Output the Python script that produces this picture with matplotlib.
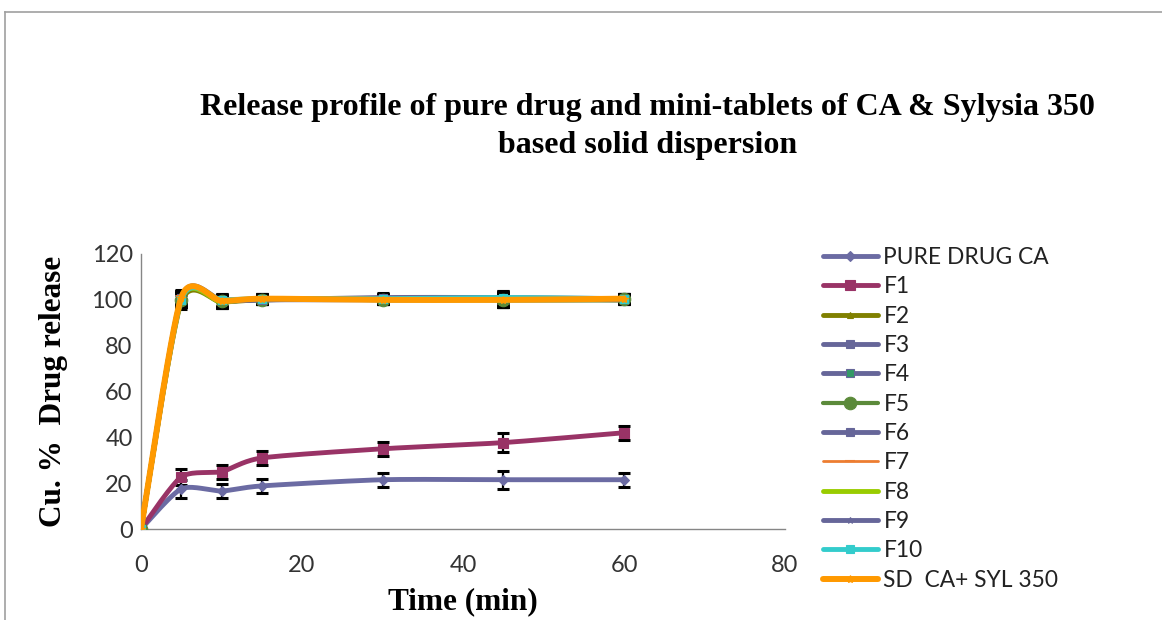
import numpy as np
import matplotlib
matplotlib.use("Agg")
import matplotlib.pyplot as plt
from matplotlib.lines import Line2D

# sampling times (min)
time = [0, 5, 10, 15, 30, 45, 60]

series_names = ["PURE DRUG CA", "F1", "F2", "F3", "F4", "F5", "F6",
                "F7", "F8", "F9", "F10", "SD  CA+ SYL 350"]

pure_drug = [0, 17.5, 16.6, 18.8, 21.5, 21.5, 21.5]
f1 = [0, 22.7, 25.0, 31.0, 35.0, 37.7, 42.0]
f2 = [0, 99.0, 99.0, 100.0, 100.5, 100.0, 100.0]
f3 = [0, 100.0, 99.5, 100.0, 100.5, 100.5, 100.0]
f4 = [0, 100.5, 99.0, 100.5, 100.0, 100.5, 100.5]
f5 = [0, 100.0, 99.5, 100.0, 100.0, 100.0, 100.5]
f6 = [0, 101.0, 100.0, 100.0, 101.0, 101.0, 100.5]
f7 = [0, 101.5, 99.0, 100.0, 100.0, 100.0, 100.5]
f8 = [0, 100.0, 99.0, 100.5, 100.0, 100.0, 100.0]
f9 = [0, 101.0, 99.5, 100.0, 100.0, 100.0, 100.0]
f10 = [0, 100.0, 100.0, 100.5, 100.5, 101.0, 100.5]
sd_ca_syl = [0, 101.0, 99.5, 100.5, 100.0, 100.0, 100.5]

pure_err = [0, 4, 3, 3, 3, 4, 3]
f1_err = [0, 3.5, 3, 3, 3, 4, 3]
high_err = [0, 3, 2.5, 2, 2, 3, 2]

values = [pure_drug, f1, f2, f3, f4, f5, f6, f7, f8, f9, f10, sd_ca_syl]
errors = [pure_err, f1_err] + [high_err] * 10

colors = ["#6B6BA3", "#993366", "#808000", "#666699", "#666699", "#5B8A3A",
          "#666699", "#ED7D31", "#99CC00", "#666699", "#33CCCC", "#FF9900"]
mfcolors = ["#6B6BA3", "#993366", "#808000", "#666699", "#339966", "#5B8A3A",
            "#666699", "#ED7D31", "#99CC00", "#666699", "#33CCCC", "#FF9900"]
markers = ["D", "s", "^", "s", "s", "o", "s", "_", "None", "*", "s", "*"]
msizes = [5, 6.5, 5, 6, 6, 9, 6, 7, 0, 5, 6, 6]
lwidths = [3.5, 3.5, 3.5, 3.5, 3.5, 3.0, 3.5, 2.0, 3.5, 3.5, 3.5, 4.3]

NSEG = 30


def smooth(x, y, k=0.12):
    # excel-like smoothed line (bezier through the points)
    x = np.asarray(x, float)
    y = np.asarray(y, float)
    n = len(x)
    xs, ys = [], []
    t = np.linspace(0, 1, NSEG, endpoint=False)
    for i in range(n - 1):
        a = max(i - 1, 0)
        b = min(i + 2, n - 1)
        p0 = np.array([x[i], y[i]])
        p3 = np.array([x[i + 1], y[i + 1]])
        p1 = p0 + k * (np.array([x[i + 1], y[i + 1]]) - np.array([x[a], y[a]]))
        p2 = p3 - k * (np.array([x[b], y[b]]) - np.array([x[i], y[i]]))
        for tt in t:
            pt = ((1 - tt) ** 3 * p0 + 3 * (1 - tt) ** 2 * tt * p1
                  + 3 * (1 - tt) * tt ** 2 * p2 + tt ** 3 * p3)
            xs.append(pt[0])
            ys.append(pt[1])
    xs.append(x[-1])
    ys.append(y[-1])
    return np.array(xs), np.array(ys)


fig = plt.figure(figsize=(11.62, 6.2), dpi=100)
ax = fig.add_axes([141 / 1162, 91 / 620, 644 / 1162, 275 / 620])

# error bars behind the lines
for i, (vals, err) in enumerate(zip(values, errors)):
    ax.errorbar(time[1:], vals[1:], yerr=err[1:], fmt="none", ecolor="black",
                elinewidth=1.6, capsize=4, capthick=2.2, zorder=1 + i * 0.01)

for i, vals in enumerate(values):
    xs, ys = smooth(time, vals)
    ax.plot(xs, ys, color=colors[i], lw=lwidths[i], marker=markers[i],
            ms=msizes[i], mfc=mfcolors[i], mec=colors[i] if i != 4 else "#666699",
            mew=1.5 if markers[i] == "_" else 0.8,
            markevery=list(range(0, len(xs), NSEG)),
            label=series_names[i], zorder=3 + i * 0.01, solid_capstyle="round")

ax.set_xlim(0, 80)
ax.set_ylim(0, 120)
ax.set_xticks([0, 20, 40, 60, 80])
ax.set_yticks([0, 20, 40, 60, 80, 100, 120])
ax.tick_params(length=0, labelsize=17, colors="#333333")
ax.tick_params(axis="x", pad=19)
ax.tick_params(axis="y", pad=6)
for lab in ax.get_xticklabels() + ax.get_yticklabels():
    lab.set_fontfamily("Lato")
for s in ["top", "right"]:
    ax.spines[s].set_visible(False)
for s in ["left", "bottom"]:
    ax.spines[s].set_color("#868686")
    ax.spines[s].set_linewidth(1.0)
ax.set_clip_on(False)

ax.set_xlabel("Time (min)", fontsize=22.5, fontweight="bold",
              fontfamily="Liberation Serif", labelpad=8)
ax.set_ylabel("Cu. %  Drug release", fontsize=22.5, fontweight="bold",
              fontfamily="Liberation Serif", labelpad=17)

fig.text(0.557, 0.827, "Release profile of pure drug and mini-tablets of CA & Sylysia 350",
         ha="center", va="center", fontsize=23, fontweight="bold",
         fontfamily="Liberation Serif")
fig.text(0.557, 0.766, "based solid dispersion", ha="center", va="center",
         fontsize=23, fontweight="bold", fontfamily="Liberation Serif")

leg = ax.legend(loc="upper left", bbox_to_anchor=(814 / 1162, 1 - 238 / 620),
                bbox_transform=fig.transFigure, frameon=False,
                prop={"family": "Lato", "size": 16.4}, handlelength=2.4,
                handletextpad=0.25, labelspacing=0.365, borderaxespad=0)
for t in leg.get_texts():
    t.set_color("#222222")

# outer frame of the chart area
fig.add_artist(Line2D([4.5 / 1162, 4.5 / 1162], [0, 1 - 11.5 / 620],
                      transform=fig.transFigure, color="#A0A0A0", lw=1.2))
fig.add_artist(Line2D([4.5 / 1162, 1], [1 - 11.5 / 620, 1 - 11.5 / 620],
                      transform=fig.transFigure, color="#A0A0A0", lw=1.2))

fig.savefig("out.png", dpi=100, facecolor="white")
